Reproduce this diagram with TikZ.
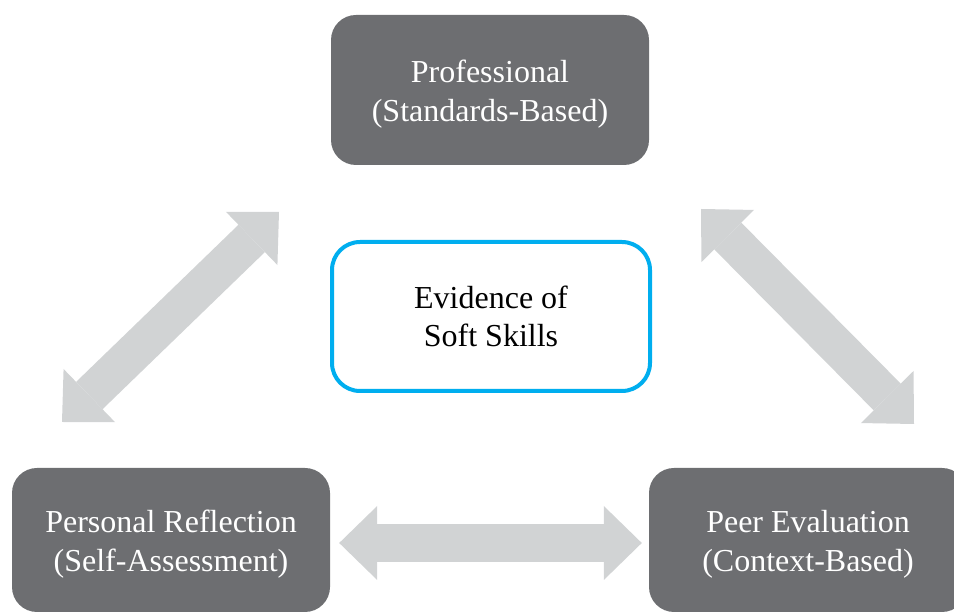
\documentclass[tikz,border=0pt]{standalone}
\usepackage{fontspec}
\setmainfont{Liberation Serif}
\usepackage{tikz}
\usetikzlibrary{arrows.meta}

\definecolor{boxgray}{HTML}{6D6E71}
\definecolor{arrowgray}{HTML}{D1D3D4}
\definecolor{skillblue}{HTML}{00AEEF}
\newcommand{\lift}{\rule{0pt}{31pt}}

\begin{document}
\begin{tikzpicture}[x=1pt,y=1pt,
	darkbox/.style={rectangle,rounded corners=25pt,fill=boxgray,text=white,align=center,minimum width=318pt,minimum height=144pt,inner sep=0pt,font=\fontsize{32}{38.5}\selectfont},
	centrebox/.style={rectangle,rounded corners=28pt,draw=skillblue,line width=4pt,fill=white,align=center,minimum width=318pt,minimum height=149pt,inner sep=0pt,font=\fontsize{32}{37.5}\selectfont},
	fat/.style={draw=arrowgray,line width=38pt,>={Triangle[length=38pt,width=74pt,line width=0pt]},<->}]

	\path[use as bounding box,clip] (0,0) rectangle (954,613);

	\node[darkbox,minimum height=150pt] (prof) at (490,523) {\lift Professional\\(Standards-Based)};
	\node[centrebox] (evid) at (491,296.5) {Evidence of\\Soft Skills};
	\node[darkbox] (pers) at (171,73) {\lift Personal Reflection\\(Self-Assessment)};
	\node[darkbox] (peer) at (808,73) {\lift Peer Evaluation\\(Context-Based)};

	\coordinate (ll) at (62,191);
	\coordinate (lu) at (279,401);
	\coordinate (ru) at (701,404);
	\coordinate (rl) at (914,189);

	\draw[fat] (ll) -- (lu);
	\draw[fat] (ru) -- (rl);
	\draw[fat,shorten <=9pt,shorten >=7pt] ([yshift=-3pt]pers.east) -- ([yshift=-3pt]peer.west);

\end{tikzpicture}
\end{document}
